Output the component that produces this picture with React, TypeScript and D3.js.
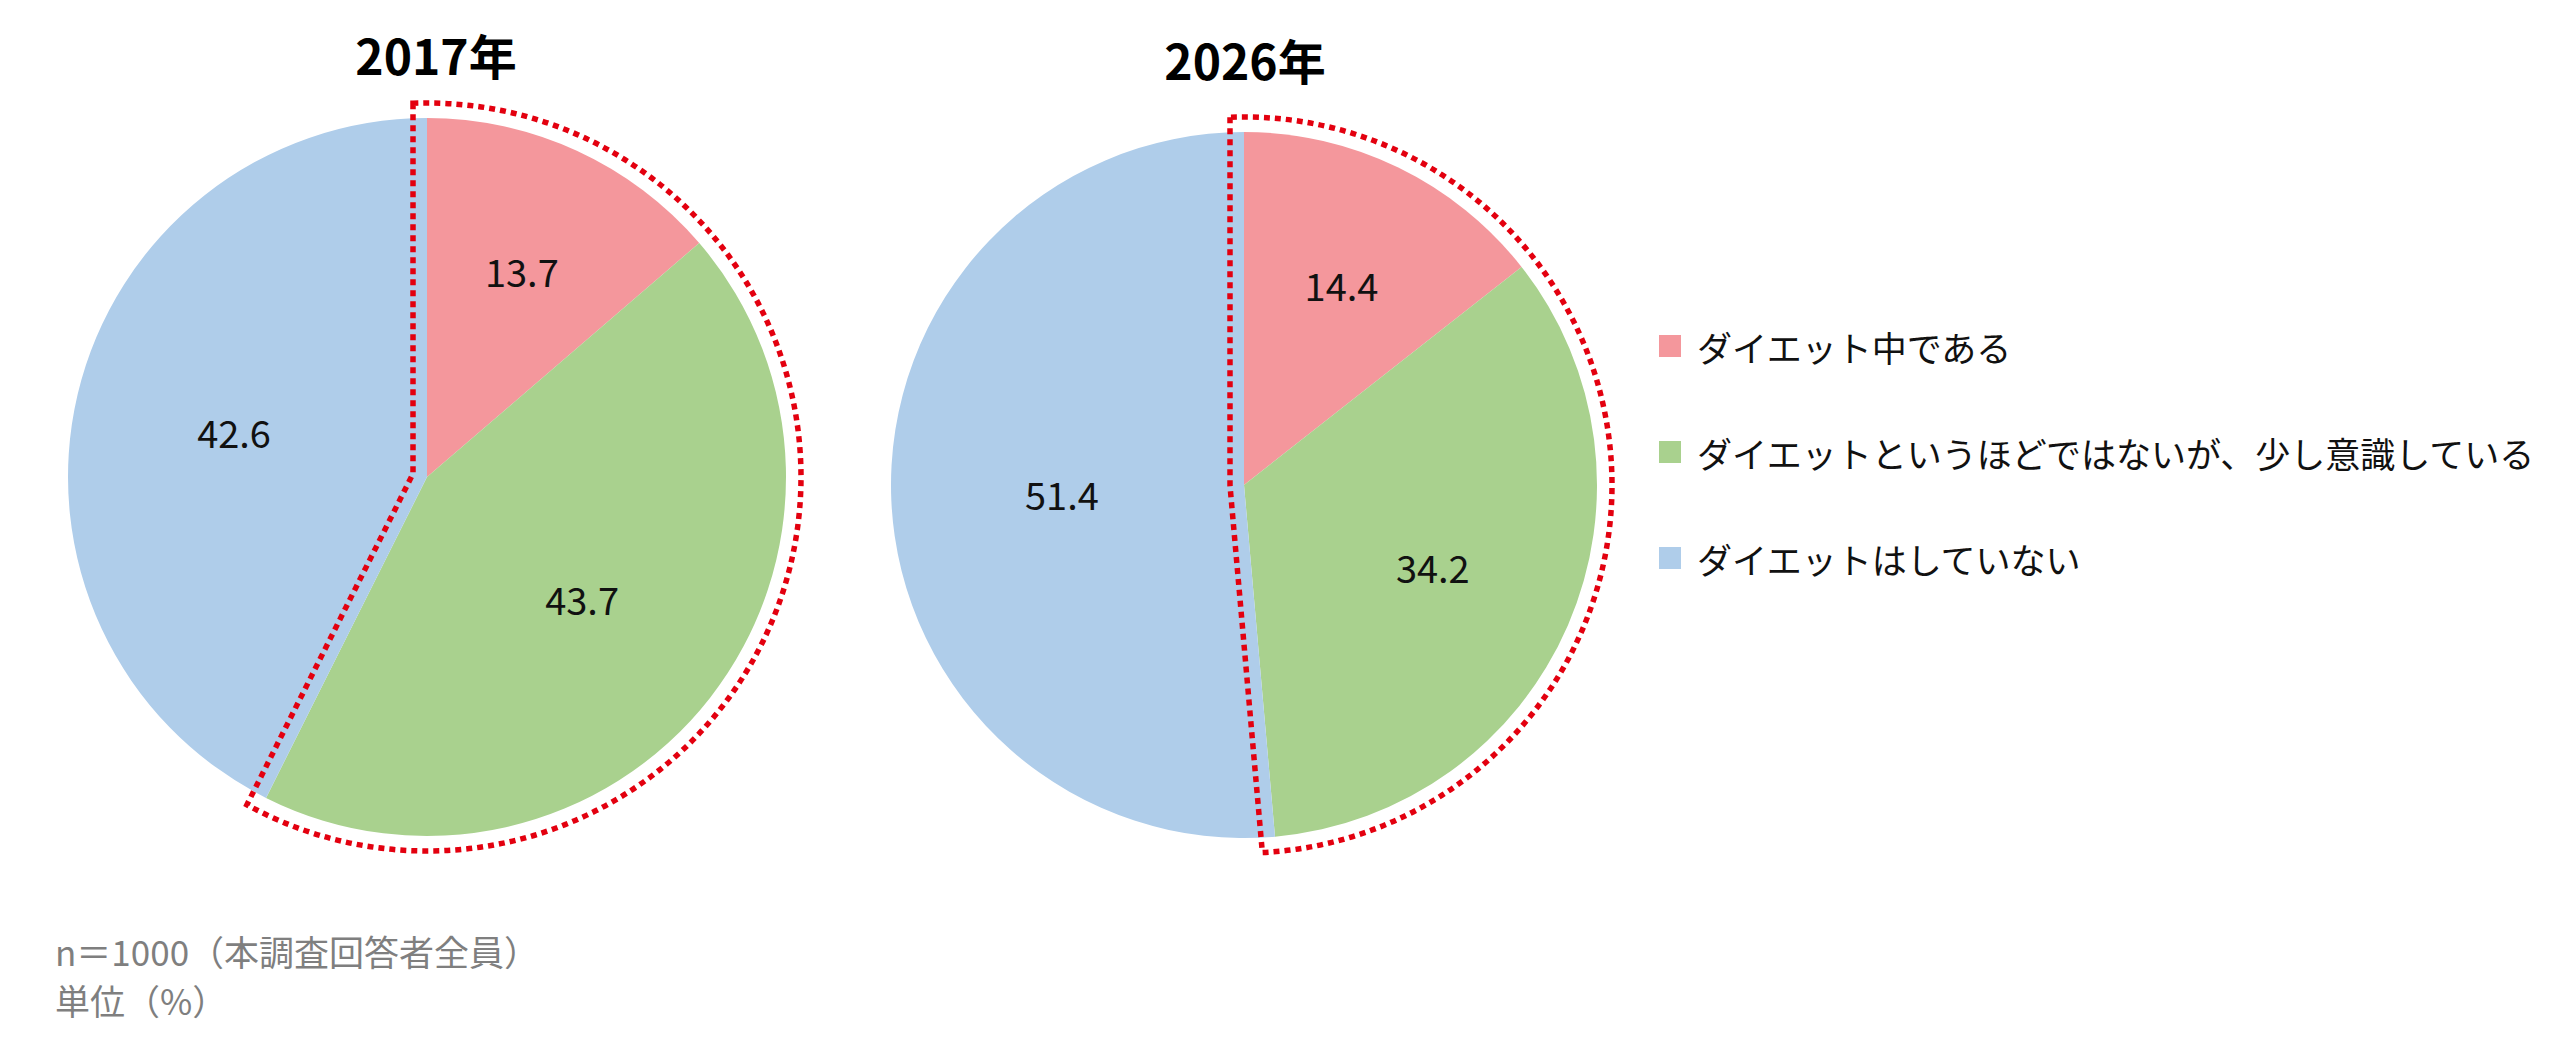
import React from "react";
import * as d3 from "d3";

// ---- data ----
const categories = [
  "ダイエット中である",
  "ダイエットというほどではないが、少し意識している",
  "ダイエットはしていない",
];
const years = ["2017年", "2026年"];
const values2017 = [13.7, 43.7, 42.6];
const values2026 = [14.4, 34.2, 51.4];
const highlighted = [0, 1]; // slices enclosed by the red dotted outline
const footnotes = ["n＝1000（本調査回答者全員）", "単位（%）"];

// ---- style / layout ----
const colors = ["#F4979C", "#A9D18E", "#AFCDEA"];
const FONT = "'Noto Sans CJK JP', 'Noto Sans', sans-serif";
const W = 2560;
const H = 1039;
const layouts = [
  { cx: 427, cy: 477, r: 359, titleX: 436, titleY: 75 },
  { cx: 1244, cy: 485, r: 353, titleX: 1245, titleY: 80 },
];
const seriesList = [values2017, values2026];

function highlightPath(cx: number, cy: number, a2: number, d: number, rOut: number) {
  const t = Math.sqrt(rOut * rOut - d * d);
  const u2 = [Math.sin(a2), -Math.cos(a2)];
  const n2 = [Math.cos(a2), Math.sin(a2)];
  const pTop = [cx - d, cy - t];
  const pEnd = [cx + t * u2[0] + d * n2[0], cy + t * u2[1] + d * n2[1]];
  const half = a2 / 2;
  const bis = half + Math.PI;
  const dist = d / Math.sin(half);
  const corner = [cx + dist * Math.sin(bis), cy - dist * Math.cos(bis)];
  const span = a2 + 2 * Math.asin(d / rOut);
  const large = span > Math.PI ? 1 : 0;
  return `M${pTop[0]},${pTop[1]} L${corner[0]},${corner[1]} L${pEnd[0]},${pEnd[1]} A${rOut},${rOut} 0 ${large} 0 ${pTop[0]},${pTop[1]} Z`;
}

// label distance: blend of a fixed ring and the sector's area centroid
function labelPos(a: d3.PieArcDatum<number>, r: number) {
  const theta = a.endAngle - a.startAngle;
  const mid = (a.startAngle + a.endAngle) / 2;
  const areaC = (2 * r * Math.sin(theta / 2)) / (1.5 * theta);
  const dist = (0.62 * r + areaC) / 2;
  return [dist * Math.sin(mid), -dist * Math.cos(mid)];
}

function Pie({ values, layout, title }: { values: number[]; layout: any; title: string }) {
  const pie = d3.pie<number>().sort(null).value((v) => v);
  const arcs = pie(values);
  const arc = d3.arc<d3.PieArcDatum<number>>().innerRadius(0).outerRadius(layout.r);
  const hiEnd = d3.max(highlighted.map((i) => arcs[i].endAngle)) as number;
  return (
    <g>
      <text
        x={layout.titleX}
        y={layout.titleY}
        textAnchor="middle"
        fontFamily={FONT}
        fontWeight={700}
        fontSize={48}
        fill="#000"
      >
        {title}
      </text>
      <g transform={`translate(${layout.cx},${layout.cy})`}>
        {arcs.map((a, i) => (
          <path key={i} d={arc(a) as string} fill={colors[i]} />
        ))}
        {arcs.map((a, i) => {
          const [x, y] = labelPos(a, layout.r);
          return (
            <text
              key={"l" + i}
              x={x}
              y={y}
              textAnchor="middle"
              dominantBaseline="central"
              fontFamily={FONT}
              fontSize={38}
              fill="#111"
            >
              {a.data.toFixed(1)}
            </text>
          );
        })}
      </g>
      <path
        d={highlightPath(layout.cx, layout.cy, hiEnd, 14, layout.r + 15)}
        fill="none"
        stroke="#E3000F"
        strokeWidth={5.5}
        strokeDasharray="6 5"
        strokeLinejoin="miter"
      />
    </g>
  );
}

export default function App() {
  const legendY = d3.scalePoint<string>().domain(categories).range([346, 558]);
  return (
    <svg
      width={W}
      height={H}
      viewBox={`0 0 ${W} ${H}`}
      style={{ position: "absolute", left: 0, top: 0, background: "#fff" }}
    >
      <rect width={W} height={H} fill="#fff" />
      {seriesList.map((vals, i) => (
        <Pie key={i} values={vals} layout={layouts[i]} title={years[i]} />
      ))}
      {categories.map((c, i) => (
        <g key={c}>
          <rect x={1659} y={(legendY(c) as number) - 11} width={22} height={22} fill={colors[i]} />
          <text
            x={1697}
            y={legendY(c) as number}
            dominantBaseline="central"
            fontFamily={FONT}
            fontSize={35}
            fill="#111"
          >
            {c}
          </text>
        </g>
      ))}
      {footnotes.map((f, i) => (
        <text key={f} x={55} y={966 + i * 49} fontFamily={FONT} fontSize={35} fill="#7F7F7F">
          {f}
        </text>
      ))}
    </svg>
  );
}
